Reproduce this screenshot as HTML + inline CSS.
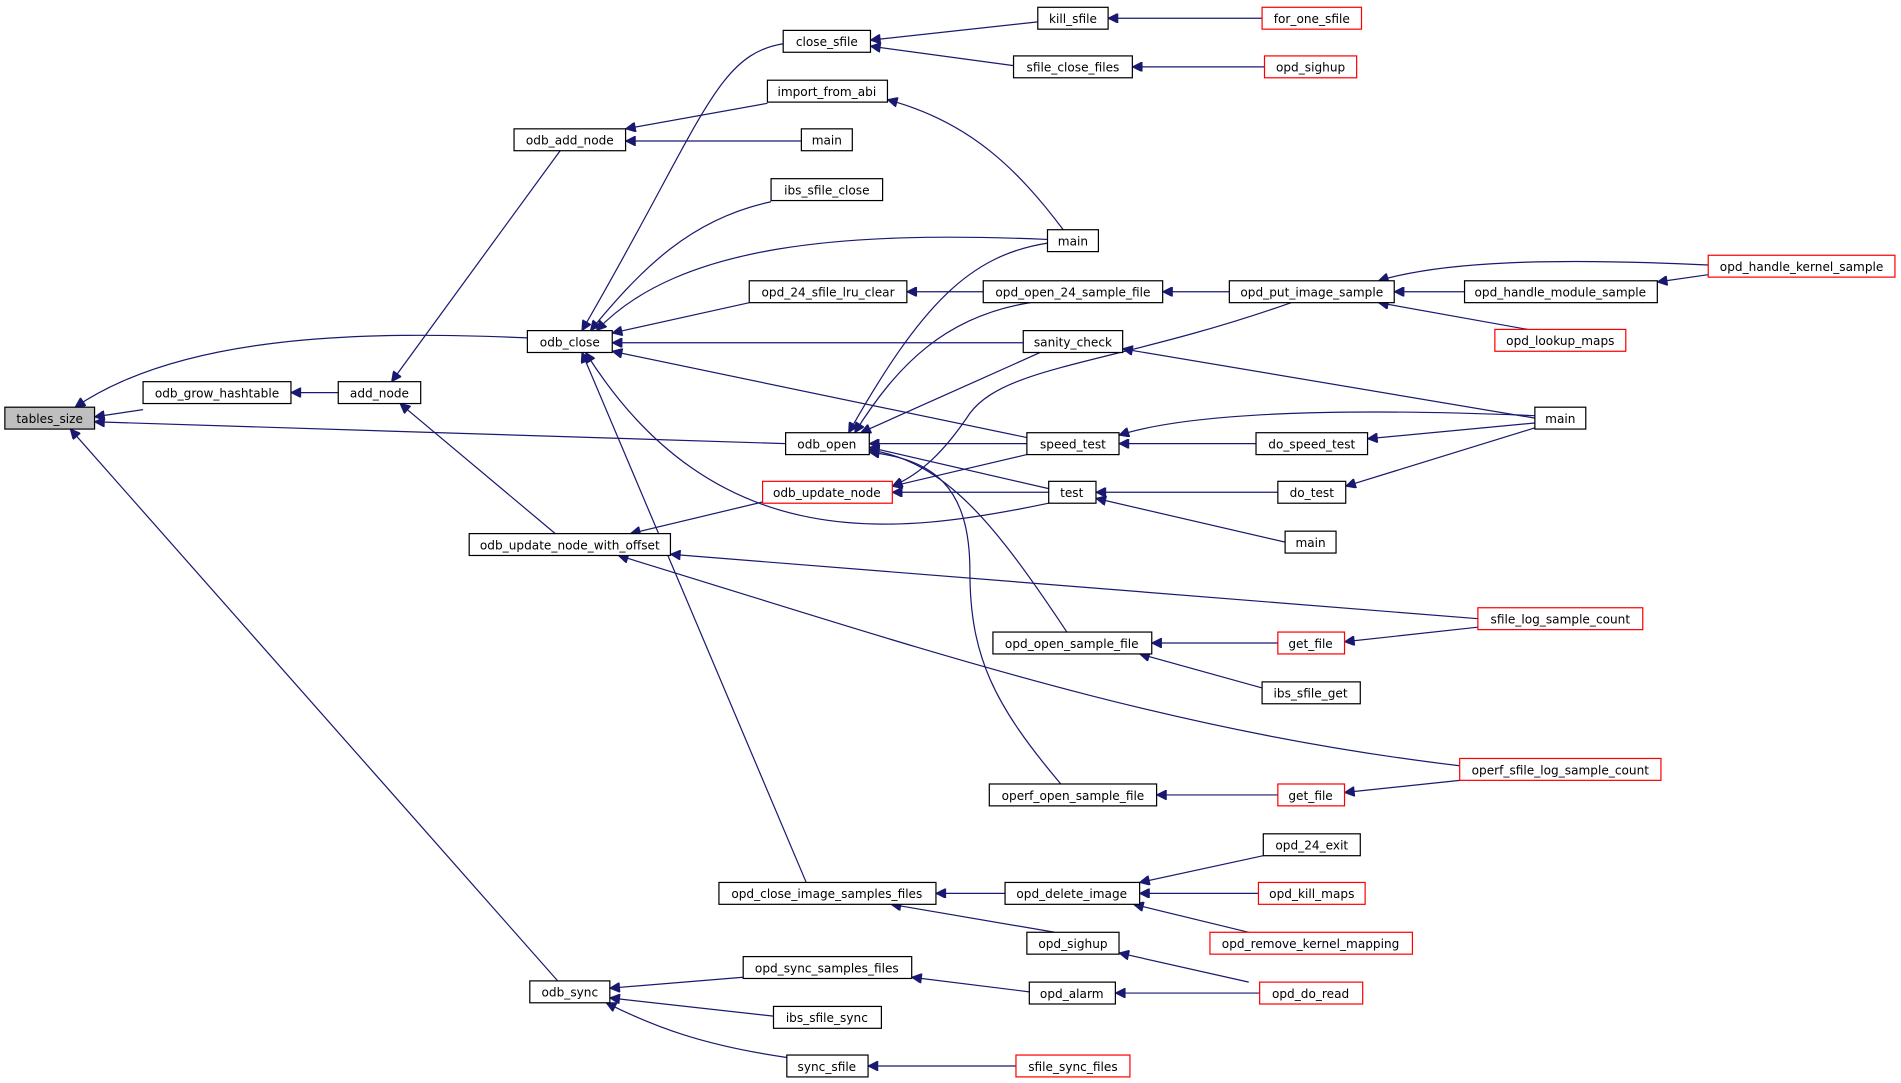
<!DOCTYPE html>
<html><head><meta charset="utf-8"><style>
html,body{margin:0;padding:0;background:#fff;}
svg{display:block;}
text{font-family:"DejaVu Sans","Liberation Sans",sans-serif;font-size:10px;fill:#000;text-anchor:middle;}
.e{fill:none;stroke:#191970;stroke-width:1;}
.n{fill:#fff;stroke:#000;stroke-width:1;}
.r{fill:#fff;stroke:#ff0000;stroke-width:1;}
</style></head><body>
<svg width="1901" height="1083" viewBox="0 0 1568 891" preserveAspectRatio="none" xmlns="http://www.w3.org/2000/svg">
<defs><marker id="a" viewBox="0 0 10 10" refX="10" refY="5" markerWidth="10" markerHeight="8" orient="auto" markerUnits="userSpaceOnUse"><path d="M0,0 L10,5 L0,10 z" fill="#191970" stroke="#191970"/></marker></defs>
<g class="e" marker-end="url(#a)">
<path d="M118,337 L78,343" marker-end="url(#a)"/>
<path d="M279,323 L240,323" marker-end="url(#a)"/>
<path d="M462,124 L323,314" marker-end="url(#a)"/>
<path d="M435,278 C300,272 150,275 62,335" marker-end="url(#a)"/>
<path d="M648,365 L78,347" marker-end="url(#a)"/>
<path d="M460,807 L58,353" marker-end="url(#a)"/>
<path d="M458,439 L330,332" marker-end="url(#a)"/>
<path d="M633,85 L516,106" marker-end="url(#a)"/>
<path d="M661,116 L516,116" marker-end="url(#a)"/>
<path d="M646,36 C590,45 580,100 480,272" marker-end="url(#a)"/>
<path d="M636,166 C570,180 530,220 487,272" marker-end="url(#a)"/>
<path d="M864,197 C700,190 560,200 492,272" marker-end="url(#a)"/>
<path d="M618,249 L505,274" marker-end="url(#a)"/>
<path d="M844,282 L505,282" marker-end="url(#a)"/>
<path d="M847,360 L505,289" marker-end="url(#a)"/>
<path d="M865,414 C740,440 590,460 483,290" marker-end="url(#a)"/>
<path d="M665,726 L480,290" marker-end="url(#a)"/>
<path d="M629,413 L520,439" marker-end="url(#a)"/>
<path d="M1219,509 L553,456" marker-end="url(#a)"/>
<path d="M1204,630 C950,600 750,530 510,457" marker-end="url(#a)"/>
<path d="M613,804 L503,813" marker-end="url(#a)"/>
<path d="M638,836 L503,821" marker-end="url(#a)"/>
<path d="M649,870 C580,860 540,845 500,825" marker-end="url(#a)"/>
<path d="M856,18 L718,33" marker-end="url(#a)"/>
<path d="M836,54 L718,38" marker-end="url(#a)"/>
<path d="M877,189 C840,140 800,100 732,82" marker-end="url(#a)"/>
<path d="M811,240 L748,240" marker-end="url(#a)"/>
<path d="M864,200 C800,210 760,250 700,356" marker-end="url(#a)"/>
<path d="M850,249 C780,260 740,300 705,356" marker-end="url(#a)"/>
<path d="M858,290 L710,356" marker-end="url(#a)"/>
<path d="M847,365 L717,365" marker-end="url(#a)"/>
<path d="M865,402 L717,368" marker-end="url(#a)"/>
<path d="M880,520 C820,430 780,380 717,370" marker-end="url(#a)"/>
<path d="M875,645 C820,580 800,540 800,470 C800,400 770,378 717,372" marker-end="url(#a)"/>
<path d="M847,374 L736,400" marker-end="url(#a)"/>
<path d="M865,405 L736,405" marker-end="url(#a)"/>
<path d="M1065,249 C920,300 830,300 800,340 C780,370 760,390 736,400" marker-end="url(#a)"/>
<path d="M1041,15 L914,15" marker-end="url(#a)"/>
<path d="M1043,55 L934,55" marker-end="url(#a)"/>
<path d="M1014,240 L959,240" marker-end="url(#a)"/>
<path d="M1266,344 L926,287" marker-end="url(#a)"/>
<path d="M1266,342 C1100,335 980,340 923,358" marker-end="url(#a)"/>
<path d="M1036,365 L923,365" marker-end="url(#a)"/>
<path d="M1054,405 L904,405" marker-end="url(#a)"/>
<path d="M1060,446 L904,410" marker-end="url(#a)"/>
<path d="M1054,529 L950,529" marker-end="url(#a)"/>
<path d="M1041,566 L940,538" marker-end="url(#a)"/>
<path d="M1054,654 L954,654" marker-end="url(#a)"/>
<path d="M829,735 L772,735" marker-end="url(#a)"/>
<path d="M870,767 L735,744" marker-end="url(#a)"/>
<path d="M1042,704 L940,726" marker-end="url(#a)"/>
<path d="M1038,735 L940,735" marker-end="url(#a)"/>
<path d="M1030,767 L935,744" marker-end="url(#a)"/>
<path d="M849,816 L752,804" marker-end="url(#a)"/>
<path d="M1030,808 L923,784" marker-end="url(#a)"/>
<path d="M1039,817 L920,817" marker-end="url(#a)"/>
<path d="M838,877 L716,877" marker-end="url(#a)"/>
<path d="M1208,240 L1150,240" marker-end="url(#a)"/>
<path d="M1409,218 C1280,212 1190,215 1137,231" marker-end="url(#a)"/>
<path d="M1260,271 L1137,249" marker-end="url(#a)"/>
<path d="M1409,226 L1367,232" marker-end="url(#a)"/>
<path d="M1266,348 L1128,361" marker-end="url(#a)"/>
<path d="M1266,352 L1110,400" marker-end="url(#a)"/>
<path d="M1219,516 L1109,528" marker-end="url(#a)"/>
<path d="M1204,642 L1109,652" marker-end="url(#a)"/>
</g>
<rect x="4" y="335" width="74" height="18" fill="#bfbfbf" stroke="#000"/><text x="41" y="348">tables_size</text>
<rect class="n" x="118" y="314" width="122" height="18"/><text x="179" y="327">odb_grow_hashtable</text>
<rect class="n" x="279" y="314" width="68" height="18"/><text x="313" y="327">add_node</text>
<rect class="n" x="424" y="106" width="92" height="18"/><text x="470" y="119">odb_add_node</text>
<rect class="n" x="435" y="272" width="70" height="18"/><text x="470" y="285">odb_close</text>
<rect class="n" x="387" y="439" width="166" height="18"/><text x="470" y="452">odb_update_node_with_offset</text>
<rect class="n" x="437" y="807" width="66" height="18"/><text x="470" y="820">odb_sync</text>
<rect class="n" x="646" y="25" width="72" height="18"/><text x="682" y="38">close_sfile</text>
<rect class="n" x="633" y="66" width="99" height="18"/><text x="682" y="79">import_from_abi</text>
<rect class="n" x="661" y="106" width="42" height="18"/><text x="682" y="119">main</text>
<rect class="n" x="636" y="147" width="92" height="18"/><text x="682" y="160">ibs_sfile_close</text>
<rect class="n" x="618" y="231" width="130" height="18"/><text x="683" y="244">opd_24_sfile_lru_clear</text>
<rect class="n" x="648" y="356" width="69" height="18"/><text x="682" y="369">odb_open</text>
<rect class="r" x="629" y="396" width="107" height="18"/><text x="682" y="409">odb_update_node</text>
<rect class="n" x="593" y="726" width="179" height="18"/><text x="682" y="739">opd_close_image_samples_files</text>
<rect class="n" x="613" y="787" width="139" height="18"/><text x="682" y="800">opd_sync_samples_files</text>
<rect class="n" x="638" y="828" width="89" height="18"/><text x="682" y="841">ibs_sfile_sync</text>
<rect class="n" x="649" y="868" width="67" height="18"/><text x="682" y="881">sync_sfile</text>
<rect class="n" x="856" y="6" width="58" height="18"/><text x="885" y="19">kill_sfile</text>
<rect class="n" x="836" y="46" width="98" height="18"/><text x="885" y="59">sfile_close_files</text>
<rect class="n" x="864" y="189" width="42" height="18"/><text x="885" y="202">main</text>
<rect class="n" x="811" y="231" width="148" height="18"/><text x="885" y="244">opd_open_24_sample_file</text>
<rect class="n" x="844" y="272" width="82" height="18"/><text x="885" y="285">sanity_check</text>
<rect class="n" x="847" y="356" width="76" height="18"/><text x="885" y="369">speed_test</text>
<rect class="n" x="865" y="396" width="39" height="18"/><text x="884" y="409">test</text>
<rect class="n" x="819" y="520" width="131" height="18"/><text x="884" y="533">opd_open_sample_file</text>
<rect class="n" x="816" y="645" width="138" height="18"/><text x="885" y="658">operf_open_sample_file</text>
<rect class="n" x="829" y="726" width="111" height="18"/><text x="884" y="739">opd_delete_image</text>
<rect class="n" x="847" y="767" width="76" height="18"/><text x="885" y="780">opd_sighup</text>
<rect class="n" x="849" y="808" width="71" height="18"/><text x="884" y="821">opd_alarm</text>
<rect class="r" x="838" y="868" width="94" height="18"/><text x="885" y="881">sfile_sync_files</text>
<rect class="r" x="1041" y="6" width="82" height="18"/><text x="1082" y="19">for_one_sfile</text>
<rect class="r" x="1043" y="46" width="76" height="18"/><text x="1081" y="59">opd_sighup</text>
<rect class="n" x="1014" y="231" width="136" height="18"/><text x="1082" y="244">opd_put_image_sample</text>
<rect class="n" x="1036" y="356" width="92" height="18"/><text x="1082" y="369">do_speed_test</text>
<rect class="n" x="1054" y="396" width="56" height="18"/><text x="1082" y="409">do_test</text>
<rect class="n" x="1060" y="437" width="42" height="18"/><text x="1081" y="450">main</text>
<rect class="r" x="1054" y="520" width="55" height="18"/><text x="1081" y="533">get_file</text>
<rect class="n" x="1041" y="561" width="81" height="18"/><text x="1081" y="574">ibs_sfile_get</text>
<rect class="r" x="1054" y="645" width="55" height="18"/><text x="1081" y="658">get_file</text>
<rect class="n" x="1042" y="686" width="80" height="18"/><text x="1082" y="699">opd_24_exit</text>
<rect class="r" x="1038" y="726" width="88" height="18"/><text x="1082" y="739">opd_kill_maps</text>
<rect class="r" x="998" y="767" width="167" height="18"/><text x="1081" y="780">opd_remove_kernel_mapping</text>
<rect class="r" x="1039" y="808" width="85" height="18"/><text x="1081" y="821">opd_do_read</text>
<rect class="n" x="1208" y="231" width="159" height="18"/><text x="1287" y="244">opd_handle_module_sample</text>
<rect class="r" x="1233" y="271" width="108" height="18"/><text x="1287" y="284">opd_lookup_maps</text>
<rect class="r" x="1409" y="210" width="154" height="18"/><text x="1486" y="223">opd_handle_kernel_sample</text>
<rect class="n" x="1266" y="335" width="42" height="18"/><text x="1287" y="348">main</text>
<rect class="r" x="1219" y="500" width="136" height="18"/><text x="1287" y="513">sfile_log_sample_count</text>
<rect class="r" x="1204" y="624" width="166" height="18"/><text x="1287" y="637">operf_sfile_log_sample_count</text>
</svg>
</body></html>
